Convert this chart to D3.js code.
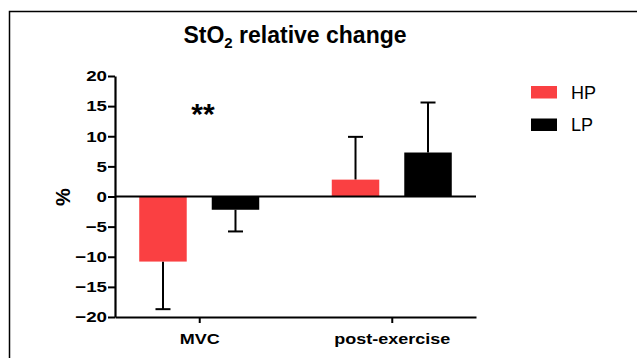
<!DOCTYPE html>
<html><head><meta charset="utf-8">
<script src="https://cdn.jsdelivr.net/npm/d3@7"></script>
<style>html,body{margin:0;padding:0;background:#fff;}svg{display:block;font-family:"Liberation Sans",Arial,sans-serif;}</style>
</head><body>
<svg id="c" width="637" height="358"></svg>
<script>
const categories = ["MVC", "post-exercise"];
const seriesNames = ["HP", "LP"];
const hpMeans = [-10.8, 2.8];
const hpErr = [-18.7, 9.9];
const lpMeans = [-2.2, 7.3];
const lpErr = [-5.8, 15.6];
const yTicks = [-20, -15, -10, -5, 0, 5, 10, 15, 20];
const colors = ["#fa4042", "#000000"];

const svg = d3.select("#c");
// frame
svg.append("path").attr("d", "M9.5,360V11.5H640").attr("fill","none").attr("stroke","#000").attr("stroke-width",1.5);

const x0 = d3.scalePoint().domain(categories).range([115, 476]).padding(0.4375);
const x1 = d3.scaleBand().domain(seriesNames).range([-60, 60]).paddingInner(0.345);
const y = d3.scaleLinear().domain([-20, 20]).range([317, 76]);

const data = [];
categories.forEach((c, i) => {
  data.push({c, s: "HP", v: hpMeans[i], e: hpErr[i], col: colors[0]});
  data.push({c, s: "LP", v: lpMeans[i], e: lpErr[i], col: colors[1]});
});

// error bars (drawn first so bars cover stems)
const eb = svg.append("g").attr("stroke","#000").attr("stroke-width",2);
data.forEach(d => {
  const cx = x0(d.c) + x1(d.s) + x1.bandwidth()/2;
  eb.append("line").attr("x1",cx).attr("x2",cx).attr("y1",y(d.v)).attr("y2",y(d.e));
  eb.append("line").attr("x1",cx-7.5).attr("x2",cx+7.5).attr("y1",y(d.e)).attr("y2",y(d.e));
});

svg.append("g").selectAll("rect").data(data).join("rect")
  .attr("x", d => x0(d.c) + x1(d.s))
  .attr("width", x1.bandwidth())
  .attr("y", d => Math.min(y(d.v), y(0)))
  .attr("height", d => Math.abs(y(d.v) - y(0)))
  .attr("fill", d => d.col);

// zero line
svg.append("line").attr("x1",115).attr("x2",476).attr("y1",y(0)).attr("y2",y(0)).attr("stroke","#000").attr("stroke-width",2);

const stretch = 1.25;
// y axis
const ya = svg.append("g").attr("transform","translate(115,0)")
  .call(d3.axisLeft(y).tickValues(yTicks).tickSize(7).tickPadding(1).tickSizeOuter(0));
ya.select(".domain").attr("stroke-width",2.2);
ya.selectAll(".tick line").attr("stroke-width",2);
ya.selectAll("text").attr("font-size",15).attr("font-weight","bold").attr("fill","#000")
  .attr("font-family","Liberation Sans, Arial, sans-serif")
  .attr("x", -8/stretch).attr("transform", `scale(${stretch},1)`);

// x axis
const xa = svg.append("g").attr("transform","translate(0,317)")
  .call(d3.axisBottom(x0).tickSize(6).tickPadding(10).tickSizeOuter(0));
xa.select(".domain").attr("stroke-width",2.2);
xa.selectAll(".tick line").attr("stroke-width",2);
xa.selectAll("text").attr("font-size",15).attr("font-weight","bold").attr("fill","#000")
  .attr("font-family","Liberation Sans, Arial, sans-serif")
  .attr("transform", "scale(1.2,1)");

// y label
svg.append("text").attr("transform","translate(70,197) rotate(-90)").attr("text-anchor","middle")
  .attr("font-size",20).attr("font-weight","bold").text("%");

// title
const t = svg.append("text").attr("x",295).attr("y",43).attr("text-anchor","middle")
  .attr("font-size",23).attr("font-weight","bold");
t.append("tspan").text("StO");
t.append("tspan").attr("font-size",15).attr("dy",5).text("2");
t.append("tspan").attr("dy",-5).text(" relative change");

// significance
svg.append("text").attr("x",203).attr("y",124).attr("text-anchor","middle")
  .attr("font-size",30).attr("font-weight","bold").text("**");

// legend
const lg = svg.append("g");
seriesNames.forEach((s, i) => {
  lg.append("rect").attr("x",531).attr("y",86 + i*32.5).attr("width",26).attr("height",12.5).attr("fill",colors[i]);
  lg.append("text").attr("x",571).attr("y",98.5 + i*32.5).attr("font-size",18).text(s);
});
</script>
</body></html>
